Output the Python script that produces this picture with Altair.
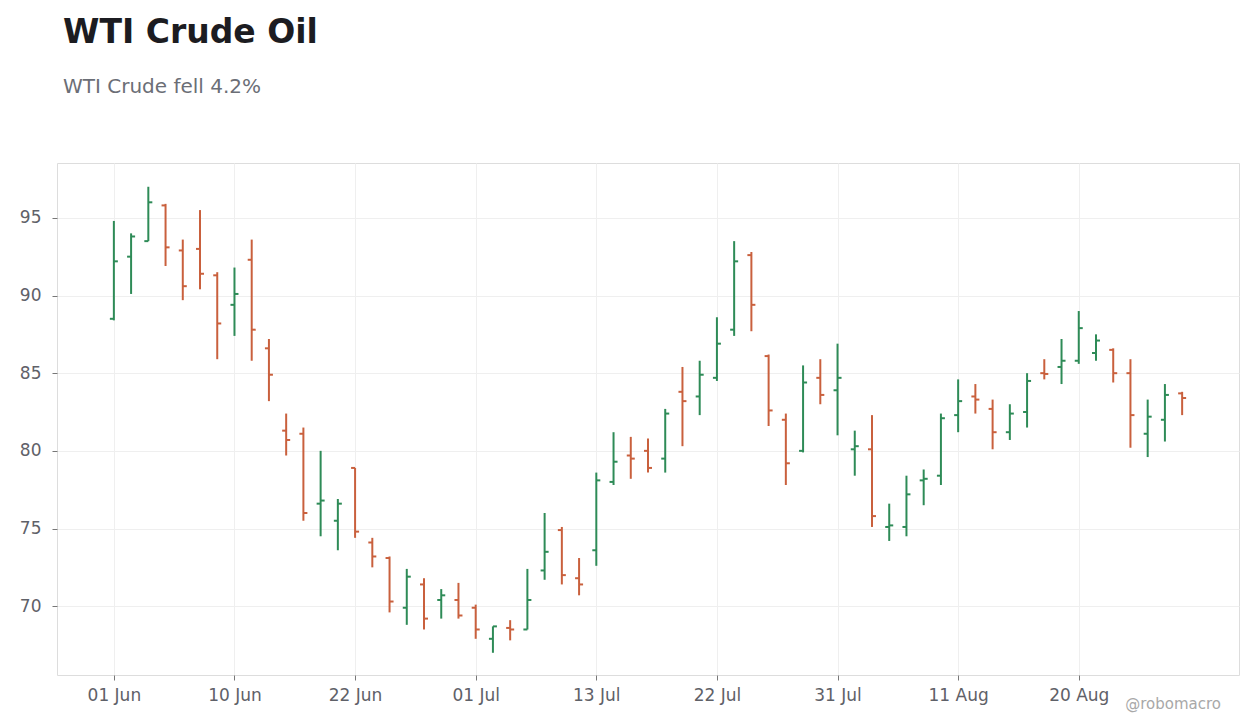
import pandas as pd
import altair as alt

# daily OHLC, one entry per trading day (index 0 = 01 Jun)
opens = [88.5, 92.5, 93.5, 95.8, 92.9, 93.0, 91.3, 89.4, 92.3, 86.6,
         81.3, 81.1, 76.6, 75.5, 78.9, 74.1, 73.1, 69.9, 71.4, 70.4,
         70.4, 69.9, 67.9, 68.6, 68.5, 72.3, 74.9, 71.8, 73.6, 78.0,
         79.7, 80.0, 79.5, 83.8, 83.5, 84.7, 87.8, 92.6, 86.1, 82.0,
         80.0, 84.7, 83.9, 80.1, 80.1, 75.1, 75.1, 78.1, 78.4, 82.3,
         83.5, 82.7, 81.2, 82.5, 85.0, 85.4, 85.8, 86.3, 86.5, 85.0,
         81.1, 82.0, 83.7]
highs = [94.8, 94.0, 97.0, 95.9, 93.6, 95.5, 91.5, 91.8, 93.6, 87.2,
         82.4, 81.5, 80.0, 76.9, 78.9, 74.4, 73.2, 72.4, 71.8, 71.1,
         71.5, 70.1, 68.7, 69.1, 72.4, 76.0, 75.1, 73.1, 78.6, 81.2,
         80.9, 80.8, 82.7, 85.4, 85.8, 88.6, 93.5, 92.8, 86.2, 82.4,
         85.5, 85.9, 86.9, 81.3, 82.3, 76.6, 78.4, 78.8, 82.4, 84.6,
         84.3, 83.3, 83.0, 85.0, 85.9, 87.2, 89.0, 87.5, 86.6, 85.9,
         83.3, 84.3, 83.8]
lows = [88.4, 90.1, 93.5, 91.9, 89.7, 90.4, 85.9, 87.4, 85.8, 83.2,
        79.7, 75.5, 74.5, 73.6, 74.4, 72.5, 69.6, 68.8, 68.5, 69.2,
        69.2, 67.9, 67.0, 67.8, 68.5, 71.7, 71.4, 70.7, 72.6, 77.8,
        78.2, 78.6, 78.6, 80.3, 82.3, 84.5, 87.4, 87.7, 81.6, 77.8,
        79.9, 83.0, 81.0, 78.4, 75.1, 74.2, 74.5, 76.5, 77.8, 81.2,
        82.4, 80.1, 80.7, 81.5, 84.6, 84.3, 85.6, 85.8, 84.4, 80.2,
        79.6, 80.6, 82.3]
closes = [92.2, 93.8, 96.0, 93.1, 90.6, 91.4, 88.2, 90.1, 87.8, 84.9,
          80.7, 76.0, 76.8, 76.6, 74.8, 73.2, 70.3, 71.9, 69.2, 70.7,
          69.4, 68.5, 68.7, 68.5, 70.4, 73.5, 72.0, 71.4, 78.1, 79.3,
          79.5, 78.9, 82.4, 83.2, 84.9, 86.9, 92.2, 89.4, 82.6, 79.2,
          84.4, 83.6, 84.7, 80.3, 75.8, 75.2, 77.2, 78.2, 82.1, 83.2,
          83.3, 81.2, 82.4, 84.5, 84.95, 85.8, 87.9, 87.1, 85.0, 82.3,
          82.2, 83.6, 83.4]

# x tick labels, one every 7 trading days
tick_idx = [0, 7, 14, 21, 28, 35, 42, 49, 56]
tick_labels = ["01 Jun", "10 Jun", "22 Jun", "01 Jul", "13 Jul",
               "22 Jul", "31 Jul", "11 Aug", "20 Aug"]

df = pd.DataFrame({
    "i": list(range(len(opens))),
    "open": opens, "high": highs, "low": lows, "close": closes,
})

GREEN = "#2e8b57"
RED = "#c9603d"
FONT = "DejaVu Sans"
LABEL = "#5f6168"

label_expr = "[" + ",".join(f"'{t}'" for t in tick_labels) + "][round(datum.value / 7)]"

x_enc = alt.X("i:Q", title=None,
              scale=alt.Scale(domain=[-3.3, 65.3], nice=False, zero=False),
              axis=alt.Axis(values=tick_idx, labelExpr=label_expr, grid=True,
                            gridColor="#efefef", domain=False, tickColor="#777",
                            tickSize=5, labelFontSize=17, labelColor=LABEL,
                            labelPadding=7, labelFont=FONT))
y_scale = alt.Scale(domain=[65.57, 98.53], nice=False, zero=False)
y_axis = alt.Axis(values=[70, 75, 80, 85, 90, 95], grid=True, gridColor="#efefef",
                  domain=False, tickColor="#777", tickSize=5, labelFontSize=17,
                  labelColor=LABEL, labelPadding=11, labelFont=FONT)
color = alt.condition("datum.close >= datum.open", alt.value(GREEN), alt.value(RED))

base = alt.Chart(df)

# high-low range
hl = base.mark_rule(strokeWidth=2).encode(
    x=x_enc,
    y=alt.Y("low:Q", title=None, scale=y_scale, axis=y_axis),
    y2="high:Q",
    color=color,
)

# open tick to the left, close tick to the right
open_tick = base.mark_rule(strokeWidth=2, xOffset=-4, x2Offset=0).encode(
    x="i:Q", x2="i:Q", y="open:Q", color=color)
close_tick = base.mark_rule(strokeWidth=2, xOffset=0, x2Offset=4).encode(
    x="i:Q", x2="i:Q", y="close:Q", color=color)

credit = alt.Chart(pd.DataFrame({"t": ["@robomacro"]})).mark_text(
    align="right", baseline="alphabetic", fontSize=15, font=FONT,
    color="#a8a8a8", clip=False,
).encode(text="t:N", x=alt.value(1164), y=alt.value(546))

chart = alt.layer(hl, open_tick, close_tick, credit).properties(
    width=1182,
    height=512,
    autosize=alt.AutoSizeParams(type="none"),
    padding={"left": 49, "top": 155, "right": 13, "bottom": 40},
    title=alt.TitleParams(
        text="WTI Crude Oil",
        subtitle="WTI Crude fell 4.2%",
        anchor="start",
        frame="group",
        dx=6,
        offset=66,
        font=FONT,
        fontSize=33,
        fontWeight="bold",
        color="#1c1c21",
        subtitleFont=FONT,
        subtitleFontSize=20,
        subtitleColor="#6b6e76",
        subtitlePadding=27,
    ),
).configure_view(stroke="#e2e2e2", strokeWidth=1).configure(background="white")

chart.save("out.html", embed_options={"renderer": "svg", "actions": False})
